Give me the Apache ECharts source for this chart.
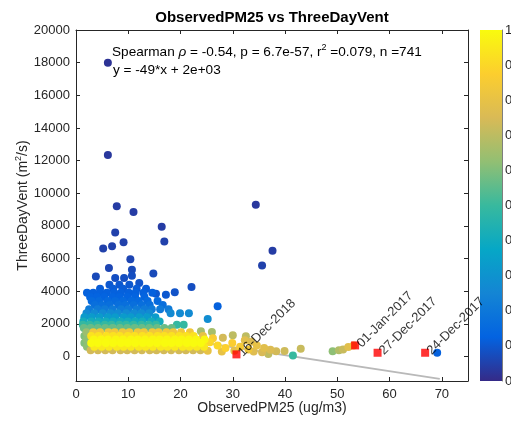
<!DOCTYPE html>
<html><head><meta charset="utf-8">
<script src="https://cdn.jsdelivr.net/npm/echarts@6/dist/echarts.min.js"></script>
<style>html,body{margin:0;padding:0;background:#fff}#c{width:511px;height:424px}</style>
</head><body><div id="c"></div>
<script>
const titleText = 'ObservedPM25 vs ThreeDayVent';
const xName = 'ObservedPM25 (ug/m3)';
const xTicks = [0, 10, 20, 30, 40, 50, 60, 70];
const yTicks = [0, 2000, 4000, 6000, 8000, 10000, 12000, 14000, 16000, 18000, 20000];
const parula = ['#352A87', '#0363E1', '#1485D4', '#06A7C6', '#38B99E', '#92BF73', '#D9BA56', '#FCCE2E', '#F9FB0E'];

// isolated points
const isoPM = [6.1, 6.1, 34.4, 7.8, 11.0, 16.4, 7.5, 16.9, 9.1, 6.9, 5.2, 37.6, 10.4, 35.6, 6.3, 10.7, 14.8, 3.8, 7.5, 9.2, 10.7, 12.1, 18.9, 22.1, 17.2, 15.3, 27.1, 25.2, 69.1];
const isoVent = [18000, 12350, 9300, 9200, 8850, 7950, 7600, 7050, 7000, 6750, 6620, 6480, 5950, 5570, 5420, 5320, 5080, 4900, 4810, 4810, 4950, 4500, 3930, 4260, 3790, 3850, 3080, 2300, 230];
const isoDens = [0.02, 0.03, 0.03, 0.04, 0.04, 0.04, 0.05, 0.05, 0.05, 0.05, 0.05, 0.04, 0.06, 0.05, 0.06, 0.07, 0.07, 0.07, 0.08, 0.08, 0.08, 0.09, 0.09, 0.08, 0.1, 0.1, 0.12, 0.28, 0.12];

// dense core, read row by row
const coreVent = [4400, 4150, 3900, 3650, 3400, 3150, 2900, 2650, 2400, 2150, 1950, 1750, 1480, 1260, 1040, 820, 600, 380];
const coreDens = [0.10, 0.11, 0.12, 0.13, 0.15, 0.17, 0.21, 0.27, 0.33, 0.41, 0.49, 0.57, 0.84, 0.93, 0.99, 1.0, 0.95, 0.74];
const corePM = [
  [6.4, 8.3, 10.2],
  [4.6, 7.1, 9.0, 11.6, 13.4],
  [2.1, 3.3, 4.6, 5.9, 7.3, 8.6, 10.1, 11.4, 12.9, 14.6],
  [2.7, 4.0, 5.4, 7.0, 8.3, 9.8, 11.3, 13.1],
  [3.0, 4.4, 6.1, 7.5, 9.0, 10.6, 12.0, 13.7, 15.6],
  [3.6, 5.0, 6.4, 8.1, 9.5, 11.0, 12.6, 14.1, 16.6],
  [2.5, 4.1, 5.5, 7.0, 8.6, 10.0, 11.6, 13.1, 14.5, 16.1, 17.7],
  [2.0, 3.5, 5.1, 6.6, 8.0, 9.6, 11.1, 12.5, 14.0, 18.1, 19.9, 21.6],
  [1.6, 3.0, 4.5, 6.1, 7.5, 9.1, 10.5, 12.1, 13.6, 15.2],
  [1.4, 2.9, 4.3, 5.7, 7.1, 8.5, 9.9, 11.3, 12.7, 14.4, 16.0],
  [1.3, 2.6, 4.0, 5.5, 6.8, 8.3, 9.6, 11.0, 12.5, 13.9, 15.3, 19.3, 20.6],
  [1.5, 2.8, 4.2, 5.6, 7.0, 8.4, 9.8, 11.2, 12.6, 14.0, 15.5, 16.9, 18.3],
  [3.3, 4.6, 6.2, 7.4, 8.9, 10.2, 11.8, 13.0, 14.6, 15.8, 17.3, 18.6, 20.1, 21.8],
  [2.9, 4.3, 5.8, 7.1, 8.4, 9.9, 11.2, 12.7, 14.1, 15.6, 16.9, 18.3, 19.8, 21.1, 22.5],
  [3.4, 4.8, 6.1, 7.6, 9.0, 10.5, 11.8, 13.2, 14.7, 16.0, 17.4, 18.9, 20.2, 21.6, 23.0, 24.6],
  [2.9, 4.2, 5.7, 7.1, 8.6, 9.9, 11.3, 12.8, 14.1, 15.5, 17.0, 18.3, 19.7, 21.2, 22.5, 23.9],
  [3.5, 4.9, 6.3, 7.8, 9.1, 10.5, 12.0, 13.3, 14.7, 16.2, 17.5, 18.9, 20.4, 21.7, 23.1, 24.5],
  [2.8, 4.2, 5.6, 7.0, 8.5, 9.8, 11.2, 12.6, 14.1, 15.4, 16.8, 18.2, 19.7, 21.0, 22.4, 23.8]
];

// blob edges and tail toward high PM2.5
const tailPM = [2.0, 1.6, 2.0, 1.6, 2.1, 23.9, 24.3, 25.6, 27.1, 28.6, 26.2, 29.9, 31.4, 33.0, 27.9, 25.2, 30.3, 34.6, 36.0, 32.3, 28.1, 30.0, 32.5, 34.0, 35.6, 37.2, 38.3, 39.9, 41.5, 43.0, 36.8, 33.5, 26.0, 49.1, 50.3, 51.1, 52.1, 53.1];
const tailVent = [1480, 1260, 1040, 820, 600, 1550, 1260, 880, 680, 520, 1120, 820, 600, 430, 300, 350, 350, 680, 520, 1000, 1150, 1300, 1240, 300, 260, 420, 320, 330, 60, 470, 150, 900, 1500, 320, 380, 430, 590, 680];
const tailDens = [0.64, 0.6, 0.62, 0.6, 0.62, 0.66, 0.8, 0.9, 0.9, 0.88, 0.86, 0.87, 0.85, 0.83, 0.8, 0.8, 0.79, 0.8, 0.78, 0.78, 0.74, 0.7, 0.7, 0.77, 0.75, 0.76, 0.74, 0.73, 0.5, 0.72, 0.7, 0.76, 0.66, 0.62, 0.68, 0.72, 0.78, 0.82];

// regression line
const fitSlope = -49, fitIntercept = 2040;
const fitX = [1.3, 69.6];

// highlighted dates
const eventDates = ['16-Dec-2018', '01-Jan-2017', '27-Dec-2017', '24-Dec-2017'];
const eventPM = [30.7, 53.4, 57.7, 66.8];
const eventVent = [130, 680, 230, 230];

const points = [];
isoPM.forEach((x, i) => points.push([x, isoVent[i], isoDens[i]]));
corePM.forEach((row, r) => row.forEach(x => points.push([x, coreVent[r], coreDens[r]])));
tailPM.forEach((x, i) => points.push([x, tailVent[i], tailDens[i]]));
points.sort((a, b) => a[2] - b[2]);

const fitLine = fitX.map(x => [x, fitSlope * x + fitIntercept]);
const events = eventPM.map((x, i) => ({ value: [x, eventVent[i]], name: eventDates[i] }));

const font = 'Liberation Sans, Arial, Helvetica, sans-serif';
const ac = '#262626';
const chart = echarts.init(document.getElementById('c'), null, { renderer: 'canvas' });

const axLine = { show: true, onZero: false, lineStyle: { color: ac, width: 1 } };
chart.setOption({
  animation: false,
  backgroundColor: '#fff',
  textStyle: { fontFamily: font },
  title: {
    text: titleText, left: 272, top: 10, textAlign: 'center', padding: 0,
    textStyle: { fontSize: 15, fontWeight: 'bold', color: '#000', fontFamily: font }
  },
  grid: [
    { left: 76, top: 30, width: 392, height: 351, outerBoundsMode: 'none', containLabel: false },
    { left: 480, top: 30, width: 22, height: 351, outerBoundsMode: 'none', containLabel: false }
  ],
  xAxis: [
    {
      gridIndex: 0, type: 'value', min: 0, max: 75, position: 'bottom',
      axisLine: axLine,
      axisTick: { inside: true, length: 4, customValues: xTicks, lineStyle: { color: ac } },
      axisLabel: { customValues: xTicks, fontSize: 13, color: ac, margin: 7, fontFamily: font },
      splitLine: { show: false },
      name: xName, nameLocation: 'middle', nameGap: 20, nameMoveOverlap: false,
      nameTextStyle: { fontSize: 14, color: ac, fontFamily: font }
    },
    {
      gridIndex: 0, type: 'value', min: 0, max: 75, position: 'top',
      axisLine: axLine,
      axisTick: { inside: true, length: 4, customValues: xTicks, lineStyle: { color: ac } },
      axisLabel: { show: false }, splitLine: { show: false }
    },
    { gridIndex: 1, type: 'category', data: ['cb'], show: false }
  ],
  yAxis: [
    {
      gridIndex: 0, type: 'value', min: -1500, max: 20000, position: 'left',
      axisLine: axLine,
      axisTick: { inside: true, length: 4, customValues: yTicks, lineStyle: { color: ac } },
      axisLabel: { customValues: yTicks, fontSize: 13, color: ac, margin: 6, fontFamily: font, formatter: v => String(v) },
      splitLine: { show: false },
      name: '{n|ThreeDayVent (m}{s|2}{n|/s)}', nameLocation: 'middle', nameGap: 43, nameMoveOverlap: false,
      nameTextStyle: {
        fontSize: 14, color: ac, fontFamily: font,
        rich: {
          n: { fontSize: 14, color: ac, fontFamily: font },
          s: { fontSize: 9, color: ac, fontFamily: font, padding: [0, 0, 10, 0] }
        }
      }
    },
    {
      gridIndex: 0, type: 'value', min: -1500, max: 20000, position: 'right',
      axisLine: axLine,
      axisTick: { inside: true, length: 4, customValues: yTicks, lineStyle: { color: ac } },
      axisLabel: { show: false }, splitLine: { show: false }
    },
    {
      gridIndex: 1, type: 'value', min: 0, max: 1, interval: 0.1, position: 'right',
      axisLine: { show: true, lineStyle: { color: ac, width: 0.6 } },
      axisTick: { inside: true, length: 3, lineStyle: { color: ac } },
      axisLabel: { fontSize: 13, color: ac, margin: 3, fontFamily: font },
      splitLine: { show: false }
    }
  ],
  visualMap: {
    show: false, type: 'continuous', seriesIndex: 1, dimension: 2, min: 0, max: 1,
    inRange: { color: parula }
  },
  series: [
    {
      type: 'line', xAxisIndex: 0, yAxisIndex: 0, data: fitLine, symbol: 'none', silent: true,
      lineStyle: { color: '#b9b9b9', width: 2 }, z: 1
    },
    {
      type: 'scatter', xAxisIndex: 0, yAxisIndex: 0, data: points, symbolSize: 8, z: 2,
      itemStyle: { opacity: 1 }
    },
    {
      type: 'scatter', xAxisIndex: 0, yAxisIndex: 0, data: events, symbol: 'rect', symbolSize: 8, z: 3,
      itemStyle: { color: '#ff0000' },
      label: {
        show: true, formatter: p => p.name, position: 'right', distance: 0, rotate: 45,
        fontSize: 13, color: '#000', fontFamily: font
      }
    },
    {
      type: 'bar', xAxisIndex: 2, yAxisIndex: 2, data: [1], barWidth: '100%', silent: true,
      itemStyle: {
        color: new echarts.graphic.LinearGradient(0, 1, 0, 0,
          parula.map((c, i) => ({ offset: i / (parula.length - 1), color: c })))
      }
    }
  ],
  graphic: [
    {
      type: 'text', left: 112, top: 43, z: 10,
      style: {
        text: 'Spearman {i|ρ} = -0.54, p = 6.7e-57, r{s|2} =0.079, n =741',
        fontSize: 13.6, fontFamily: font, fill: '#000',
        rich: {
          i: { fontSize: 13.6, fontFamily: font, fontStyle: 'italic', fill: '#000' },
          s: { fontSize: 9, fontFamily: font, fill: '#000', padding: [0, 0, 10, 0] }
        }
      }
    },
    {
      type: 'text', left: 113, top: 63, z: 10,
      style: { text: 'y = -49*x + 2e+03', fontSize: 13.6, fontFamily: font, fill: '#000' }
    }
  ]
});
</script></body></html>
